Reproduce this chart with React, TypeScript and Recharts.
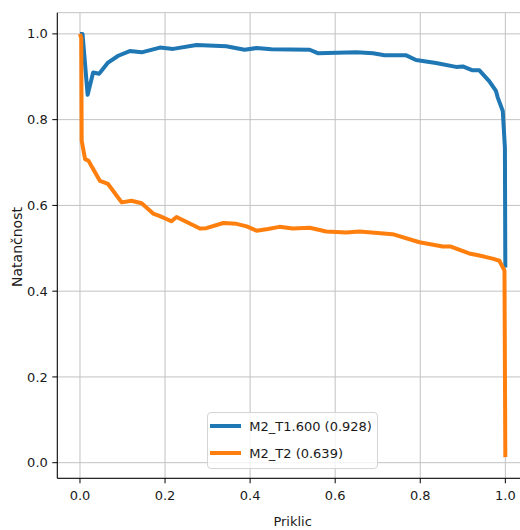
import { CartesianGrid, Label, Legend, Line, LineChart, XAxis, YAxis } from "recharts";

const FONT = '"DejaVu Sans", sans-serif';
const TEXT = "#1a1a1a";

// precision-recall points
const blueRecall = [
  0, 0.006, 0.018, 0.031, 0.045, 0.066, 0.09, 0.117, 0.145, 0.188, 0.219, 0.274, 0.344, 0.387, 0.415, 0.45,
  0.54, 0.559, 0.65, 0.689, 0.716, 0.767, 0.79, 0.837, 0.884, 0.9, 0.923, 0.939, 0.962, 0.978, 0.982, 0.994,
  0.999, 1.0,
];
const bluePrecision = [
  1.0, 1.0, 0.858, 0.91, 0.907, 0.933, 0.949, 0.96, 0.957, 0.968, 0.965, 0.974, 0.971, 0.963, 0.967, 0.964,
  0.963, 0.955, 0.957, 0.955, 0.95, 0.95, 0.939, 0.932, 0.923, 0.924, 0.915, 0.915, 0.89, 0.867, 0.852, 0.82,
  0.735, 0.455,
];

const orangeRecall = [
  0, 0.003, 0.004, 0.012, 0.02, 0.047, 0.066, 0.098, 0.121, 0.145, 0.172, 0.188, 0.215, 0.227, 0.282, 0.297,
  0.337, 0.368, 0.392, 0.415, 0.442, 0.469, 0.5, 0.54, 0.579, 0.626, 0.657, 0.735, 0.798, 0.853, 0.872, 0.915,
  0.939, 0.97, 0.986, 0.998, 1.0,
];
const orangePrecision = [
  1.0, 0.99, 0.751, 0.708, 0.704, 0.657, 0.65, 0.607, 0.611, 0.605, 0.581, 0.575, 0.563, 0.573, 0.546, 0.547,
  0.559, 0.557, 0.551, 0.541, 0.545, 0.55, 0.546, 0.548, 0.539, 0.537, 0.539, 0.533, 0.514, 0.504, 0.504, 0.488,
  0.483, 0.476, 0.471, 0.448, 0.013,
];

const seriesNames = ["M2_T1.600 (0.928)", "M2_T2 (0.639)"];
const seriesColors = ["#1f77b4", "#ff7f0e"];

const xTicks = [0, 0.2, 0.4, 0.6, 0.8, 1.0];
const yTicks = [0, 0.2, 0.4, 0.6, 0.8, 1.0];
const xDomain = [-0.0533, 1.0533];
const yDomain = [-0.0364, 1.0494];

const toPoints = (recall: number[], precision: number[]) => recall.map((x, i) => ({ x, y: precision[i] }));

const blueData = toPoints(blueRecall, bluePrecision);
const orangeData = toPoints(orangeRecall, orangePrecision);

function YTitle({ viewBox }: any) {
  const cx = (viewBox?.x ?? 0) + 17;
  const cy = (viewBox?.y ?? 0) + (viewBox?.height ?? 0) / 2 + 1.5;
  return (
    <text
      x={cx}
      y={cy}
      transform={`rotate(-90 ${cx} ${cy})`}
      textAnchor="middle"
      dominantBaseline="central"
      fill={TEXT}
      fontSize={14}
      fontFamily={FONT}
    >
      Natančnost
    </text>
  );
}

function LegendBox({ payload }: any) {
  return (
    <div
      style={{
        boxSizing: "border-box",
        width: 171,
        height: 57,
        border: "1px solid #d4d4d4",
        borderRadius: 4,
        background: "rgba(255,255,255,0.8)",
        fontFamily: FONT,
      }}
    >
      {(payload ?? []).map((entry: any) => (
        <div key={entry.value} style={{ display: "flex", alignItems: "center", height: 27 }}>
          <span style={{ marginLeft: 2, width: 30.5, height: 4, background: entry.color }} />
          <span style={{ marginLeft: 8.5, fontSize: 13, lineHeight: "13px", color: TEXT }}>{entry.value}</span>
        </div>
      ))}
    </div>
  );
}

export default function App() {
  return (
    <div
      style={{
        position: "absolute",
        left: 0,
        top: 0,
        width: 520,
        height: 530,
        overflow: "hidden",
        background: "#fff",
        fontFamily: FONT,
      }}
    >
      <LineChart width={540} height={530} margin={{ top: 12.7, right: 12, bottom: 0, left: 0 }}>
        <CartesianGrid stroke="#c2c2c2" strokeWidth={1} />
        <XAxis
          dataKey="x"
          type="number"
          domain={xDomain}
          ticks={xTicks}
          allowDataOverflow
          height={51.7}
          tickSize={5}
          tickMargin={7}
          stroke="#000"
          tick={{ fill: TEXT, fontSize: 13, fontFamily: FONT }}
          tickFormatter={(v: number) => v.toFixed(1)}
        >
          <Label value="Priklic" position="insideBottom" offset={4} style={{ fill: TEXT, fontSize: 13, fontFamily: FONT }} />
        </XAxis>
        <XAxis
          xAxisId="top"
          orientation="top"
          type="number"
          domain={xDomain}
          allowDataOverflow
          height={0}
          tick={false}
          tickLine={false}
          stroke="#000"
        />
        <YAxis
          dataKey="y"
          type="number"
          domain={yDomain}
          ticks={yTicks}
          allowDataOverflow
          width={57.3}
          tickSize={5}
          tickMargin={4.5}
          stroke="#000"
          tick={{ fill: TEXT, fontSize: 13, fontFamily: FONT }}
          tickFormatter={(v: number) => v.toFixed(1)}
        >
          <Label content={<YTitle />} />
        </YAxis>
        <Legend
          layout="vertical"
          align="center"
          verticalAlign="middle"
          wrapperStyle={{ left: 207.3, top: 411.7, width: 171 }}
          content={<LegendBox />}
        />
        <Line
          data={blueData}
          dataKey="y"
          name={seriesNames[0]}
          type="linear"
          stroke={seriesColors[0]}
          strokeWidth={4}
          strokeLinejoin="round"
          dot={false}
          activeDot={false}
          isAnimationActive={false}
        />
        <Line
          data={orangeData}
          dataKey="y"
          name={seriesNames[1]}
          type="linear"
          stroke={seriesColors[1]}
          strokeWidth={4}
          strokeLinejoin="round"
          dot={false}
          activeDot={false}
          isAnimationActive={false}
        />
      </LineChart>
    </div>
  );
}
